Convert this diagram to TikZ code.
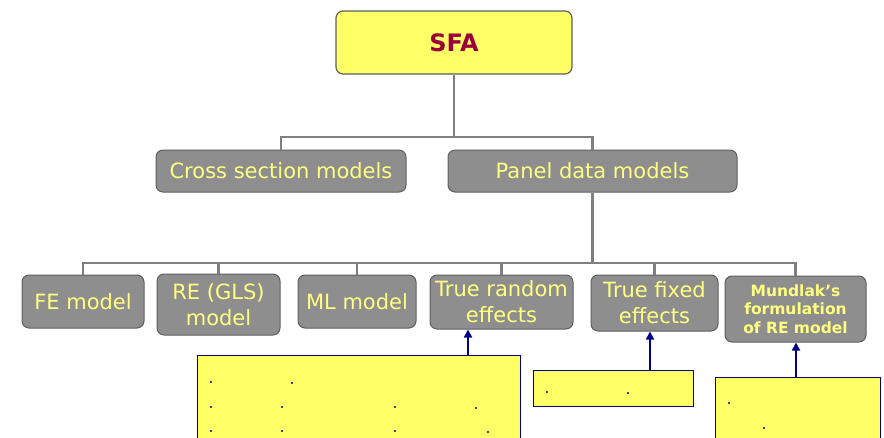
\documentclass[tikz,border=0pt]{standalone}
\usepackage{fontspec}
\setmainfont{DejaVu Sans}
\usepackage{xcolor}
\usetikzlibrary{positioning,arrows.meta}
\definecolor{boxgray}{HTML}{8E8E8E}
\definecolor{edgegray}{HTML}{5F5F5F}
\definecolor{linegray}{HTML}{7F7F7F}
\definecolor{softyellow}{HTML}{FFFF80}
\definecolor{lightyellow}{HTML}{FFFF66}
\definecolor{sfared}{HTML}{99003A}
\definecolor{navy}{HTML}{00008B}

\begin{document}
\begin{tikzpicture}[
                x=1pt, y=-1pt,
                topbox/.style={draw=edgegray, fill=lightyellow, rounded corners=7pt, line width=1.2pt,
                    minimum width=236pt, minimum height=63pt, text=sfared,
                    font=\fontsize{24}{26}\selectfont\bfseries},
                catbox/.style={draw=edgegray, fill=boxgray, rounded corners=7pt, line width=1pt,
                    text=softyellow, align=center, inner sep=0pt,
                    font=\fontsize{21}{26}\selectfont},
                notebox/.style={draw=navy, fill=lightyellow, line width=1.3pt, anchor=north west},
                tree/.style={draw=linegray, line width=2.4pt},
                arrow/.style={-{Triangle[length=8pt,width=8pt]}, draw=navy, line width=1.7pt}
            ]
                \clip (0,0) rectangle (884,437);

                \node[topbox] (sfa) at (454,42.5) {SFA};

                \node[catbox, minimum width=250pt, minimum height=42pt] (cross) at (281,171) {Cross section models};
                \node[catbox, minimum width=289pt, minimum height=42pt] (panel) at (592.5,171) {Panel data models};

                \node[catbox, minimum width=122pt, minimum height=53pt] (fe) at (83,301.5) {FE model};
                \node[catbox, minimum width=123pt, minimum height=61pt] (re) at (218.5,304.5) {RE (GLS)\\model};
                \node[catbox, minimum width=118pt, minimum height=53pt] (ml) at (357,301.5) {ML model};
                \node[catbox, minimum width=143pt, minimum height=54pt] (tre) at (501.5,302) {True random\\effects};
                \node[catbox, minimum width=127pt, minimum height=56pt] (tfe) at (654.5,303) {True fixed\\effects};
                \node[catbox, minimum width=141pt, minimum height=66pt,
                      font=\fontsize{15.5}{18.5}\selectfont\bfseries] (mund) at (795.5,309) {Mundlak's\\formulation\\of RE model};

                % notes below
                \node[notebox, minimum width=323pt, minimum height=95pt] (note1) at (197,355) {};
                \node[notebox, minimum width=160pt, minimum height=36pt] (note2) at (533,370) {};
                \node[notebox, minimum width=165pt, minimum height=70pt] (note3) at (715,377) {};

                \foreach \x/\y in {211/382, 292/383, 211/407, 282/407, 395/407, 476/408,
                                   211/431, 282/431, 395/431, 488/432,
                                   547/392, 628/393, 729/403, 764/428}
                    \fill[navy] (\x,\y) circle (1.2pt);

                % tree
                \coordinate (split1) at (454,137);
                \coordinate (split2) at (592.5,263);
                \draw[tree] (sfa.south) -- (split1);
                \draw[tree] (cross.north) |- (split1) -| (panel.north);
                \draw[tree] (panel.south) -- (split2);
                \draw[tree] (fe.north) |- (split2) -| (mund.north);
                \foreach \n in {re,ml,tre,tfe}
                    \draw[tree] (\n.north) -- (\n.north |- split2);

                % arrows
                \coordinate (col1) at (468,0);
                \coordinate (col2) at (650,0);
                \coordinate (col3) at (796,0);
                \draw[arrow] (note1.north -| col1) -- (tre.south -| col1);
                \draw[arrow] (note2.north -| col2) -- (tfe.south -| col2);
                \draw[arrow] (note3.north -| col3) -- (mund.south -| col3);
            \end{tikzpicture}
\end{document}
